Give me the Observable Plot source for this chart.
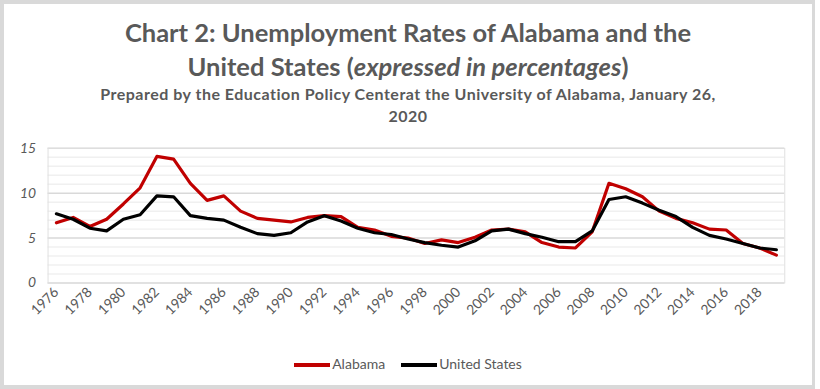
<!DOCTYPE html>
<html>
<head>
<meta charset="utf-8">
<script src="https://cdn.jsdelivr.net/npm/d3@7"></script>
<script src="https://cdn.jsdelivr.net/npm/@observablehq/plot@0.6"></script>
<style>
  html, body { margin: 0; padding: 0; background: #fff; }
  #frame { position: absolute; left: 0; top: 0; width: 808px; height: 381px; border: 4px solid #d9d9d9; border-right-width: 3px; background: #fff; font-family: Lato, "Open Sans", sans-serif; color: #595959; }
  .t1 { position: absolute; left: 0; width: 808px; text-align: center; font-weight: bold; font-size: 25.5px; white-space: nowrap; }
  .t2 { position: absolute; left: 0; width: 808px; text-align: center; font-weight: bold; font-size: 16px; letter-spacing: 0.5px; white-space: nowrap; }
  #chart { position: absolute; left: -4px; top: 126px; }
  #legend { position: absolute; left: 0; top: 351px; width: 808px; text-align: center; font-size: 14px; }
  .sw { display: inline-block; width: 36px; height: 4px; vertical-align: middle; margin-right: 2px; }
  .item { margin: 0 8px; }
</style>
</head>
<body>
<div id="frame">
  <div class="t1" style="top:13px">Chart 2: Unemployment Rates of Alabama and the</div>
  <div class="t1" style="top:47px">United States (<i>expressed in percentages</i>)</div>
  <div class="t2" style="top:80px">Prepared by the Education Policy Centerat the University of Alabama, January 26,</div>
  <div class="t2" style="top:102px">2020</div>
  <div id="chart"></div>
  <div id="legend"></div>
</div>
<script>
const years = d3.range(1976, 2020);
const alabama = [6.7,7.3,6.3,7.1,8.8,10.6,14.1,13.8,11.1,9.2,9.7,8.0,7.2,7.0,6.8,7.3,7.5,7.4,6.2,5.9,5.2,5.0,4.4,4.8,4.5,5.1,5.9,6.0,5.7,4.5,4.0,3.9,5.7,11.1,10.5,9.6,8.0,7.2,6.7,6.0,5.9,4.4,3.9,3.1];
const unitedStates = [7.7,7.1,6.1,5.8,7.1,7.6,9.7,9.6,7.5,7.2,7.0,6.2,5.5,5.3,5.6,6.8,7.5,6.9,6.1,5.6,5.4,4.9,4.5,4.2,4.0,4.7,5.8,6.0,5.5,5.1,4.6,4.6,5.8,9.3,9.6,8.9,8.1,7.4,6.2,5.3,4.9,4.4,3.9,3.7];
const seriesNames = ["Alabama", "United States"];
const seriesColors = ["#c00000", "#000000"];
const yTicks = [0, 5, 10, 15];
const xTickYears = years.filter(y => y % 2 === 0);

const rows = [];
years.forEach((yr, i) => {
  rows.push({year: yr, value: alabama[i], series: seriesNames[0]});
});
years.forEach((yr, i) => {
  rows.push({year: yr, value: unitedStates[i], series: seriesNames[1]});
});

const chart = Plot.plot({
  width: 820,
  height: 222,
  marginLeft: 48,
  marginRight: 28,
  marginTop: 18,
  marginBottom: 68,
  style: {fontFamily: "Lato, 'Open Sans', sans-serif", color: "#595959", background: "transparent"},
  x: {type: "point", domain: years, padding: 0.5, label: null},
  y: {domain: [0, 15], label: null},
  color: {domain: seriesNames, range: seriesColors},
  marks: [
    Plot.ruleY(d3.range(0, 16, 1).filter(v => v % 5 !== 0), {stroke: "#f0f0f0", strokeWidth: 1.5}),
    Plot.ruleY([5, 10, 15], {stroke: "#d9d9d9", strokeWidth: 1.5}),
    Plot.ruleY([0], {stroke: "#d9d9d9", strokeWidth: 1.5}),
    Plot.frame({stroke: "#e0e0e0"}),
    Plot.axisY(yTicks, {tickSize: 0, tickPadding: 12, fontSize: 14, fontStyle: "italic", fill: "#595959", label: null}),
    Plot.axisX(xTickYears, {tickSize: 0, tickPadding: 7, tickRotate: -45, tickFormat: d => String(d), fontSize: 14, fill: "#595959", label: null}),
    Plot.line(rows, {x: "year", y: "value", z: "series", stroke: "series", strokeWidth: 3.2, strokeLinejoin: "round", strokeLinecap: "round"})
  ]
});
document.getElementById("chart").appendChild(chart);

const legend = document.getElementById("legend");
seriesNames.forEach((name, i) => {
  const span = document.createElement("span");
  span.className = "item";
  span.innerHTML = `<span class="sw" style="background:${seriesColors[i]}"></span>${name}`;
  legend.appendChild(span);
});
</script>
</body>
</html>
